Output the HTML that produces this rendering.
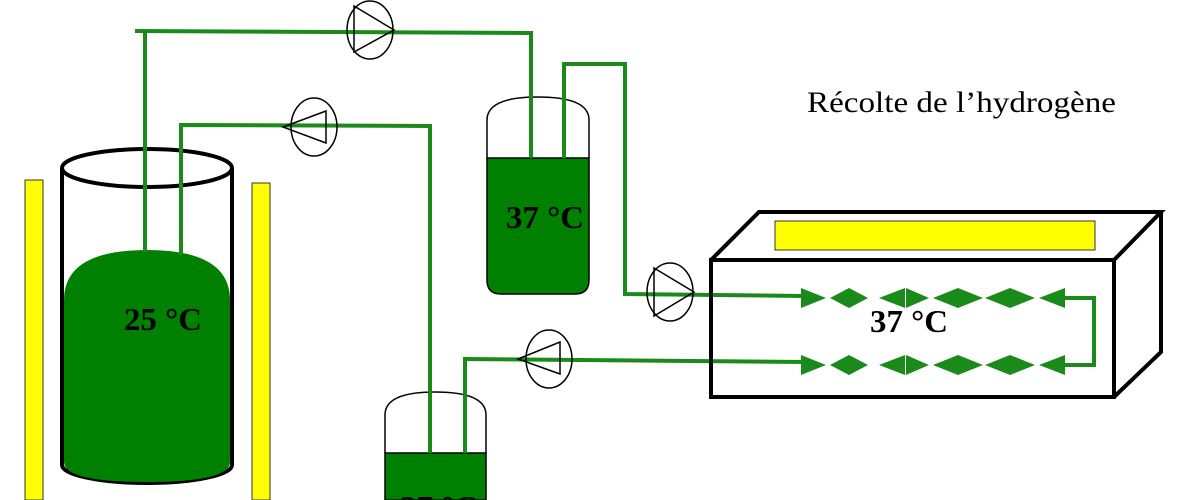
<!DOCTYPE html>
<html><head><meta charset="utf-8"><style>
html,body{margin:0;padding:0;background:#fff;width:1200px;height:500px;overflow:hidden;}
svg{display:block;overflow:hidden;}
</style></head><body>
<svg width="1200" height="500" viewBox="0 0 1200 500" xmlns="http://www.w3.org/2000/svg">
<rect x="25" y="180" width="18" height="320" fill="#ffff00" stroke="#333" stroke-width="1"/>
<rect x="252" y="183" width="18" height="317" fill="#ffff00" stroke="#333" stroke-width="1"/>
<path d="M62,168 L62,465 A85,18 0 0 0 232,465 L232,168" fill="none" stroke="#000" stroke-width="4"/>
<path d="M64,300 Q64,250 147,250 Q230,250 230,300 L230,462 Q230,482 147,482 Q64,482 64,462 Z" fill="#008000"/>
<ellipse cx="147" cy="168" rx="85" ry="19" fill="none" stroke="#000" stroke-width="4"/>
<text x="124" y="330" font-family="Liberation Serif, serif" font-weight="bold" font-size="32" fill="#000" textLength="78" lengthAdjust="spacingAndGlyphs">25 °C</text>
<path d="M487,158 L487,120 Q487,97 538,97 Q589,97 589,120 L589,158" fill="none" stroke="#000" stroke-width="1.5"/>
<path d="M487,158 L589,158 L589,280 Q589,294 575,294 L501,294 Q487,294 487,280 Z" fill="#008000" stroke="#000" stroke-width="1.5"/>
<text x="506" y="228" font-family="Liberation Serif, serif" font-weight="bold" font-size="32" fill="#000" textLength="78" lengthAdjust="spacingAndGlyphs">37 °C</text>
<path d="M385,453 L385,415 Q385,392 435,392 Q486,392 486,415 L486,453" fill="none" stroke="#000" stroke-width="1.5"/>
<rect x="385" y="453" width="101" height="47" fill="#008000" stroke="#000" stroke-width="1.5"/>
<text x="400" y="518" font-family="Liberation Serif, serif" font-weight="bold" font-size="32" fill="#000" textLength="78" lengthAdjust="spacingAndGlyphs">37 °C</text>
<g fill="none" stroke="#1a8a1a" stroke-width="4">
<polyline points="135,31 531,33 531,158"/>
<line x1="145" y1="31" x2="145" y2="252"/>
<polyline points="181,255 181,125 430,126 430,453"/>
<polyline points="564,158 564,64 625,64 625,294 805,296"/>
<polyline points="465,453 465,359 805,362"/>
<polyline points="1065,298 1094,298 1094,365 1065,365"/>
</g>
<g fill="none" stroke="#000" stroke-width="1.5">
<ellipse cx="370" cy="30" rx="23" ry="29"/>
<polygon points="354,6 394,30 354,52"/>
<ellipse cx="314" cy="127" rx="23" ry="29"/>
<polygon points="326,111 326,143 283,127"/>
<ellipse cx="670" cy="292" rx="23" ry="29"/>
<polygon points="654,268 694,292 654,316"/>
<ellipse cx="549" cy="359" rx="23" ry="29"/>
<polygon points="560,342 560,374 518,359"/>
</g>
<g fill="none" stroke="#000" stroke-width="4" stroke-linejoin="miter">
<rect x="711" y="260" width="403" height="137"/>
<polyline points="711,260 759,212 1161,212 1114,260"/>
<polyline points="1161,212 1161,352 1114,397"/>
</g>
<rect x="775" y="221" width="320" height="29" fill="#ffff00" stroke="#333" stroke-width="1"/>
<text x="870" y="332" font-family="Liberation Serif, serif" font-weight="bold" font-size="32" fill="#000" textLength="78" lengthAdjust="spacingAndGlyphs">37 °C</text>
<g fill="#1a8a1a" stroke="none">
<g id="row">
<polygon points="801,288 826,298 801,308"/>
<polygon points="830,298 849,288 868,298 849,308"/>
<polygon points="905,288 905,308 879,298"/>
<polygon points="906,288 929,298 906,308"/>
<polygon points="933,298 958,288 983,298 958,308"/>
<polygon points="985,298 1010,288 1035,298 1010,308"/>
<polygon points="1065,288 1065,308 1039,298"/>
</g>
<use href="#row" transform="translate(0,67)"/>
</g>
<text x="807" y="112" font-family="Liberation Serif, serif" font-size="30" fill="#000" textLength="309" lengthAdjust="spacingAndGlyphs">Récolte de l’hydrogène</text>
</svg>
</body></html>
